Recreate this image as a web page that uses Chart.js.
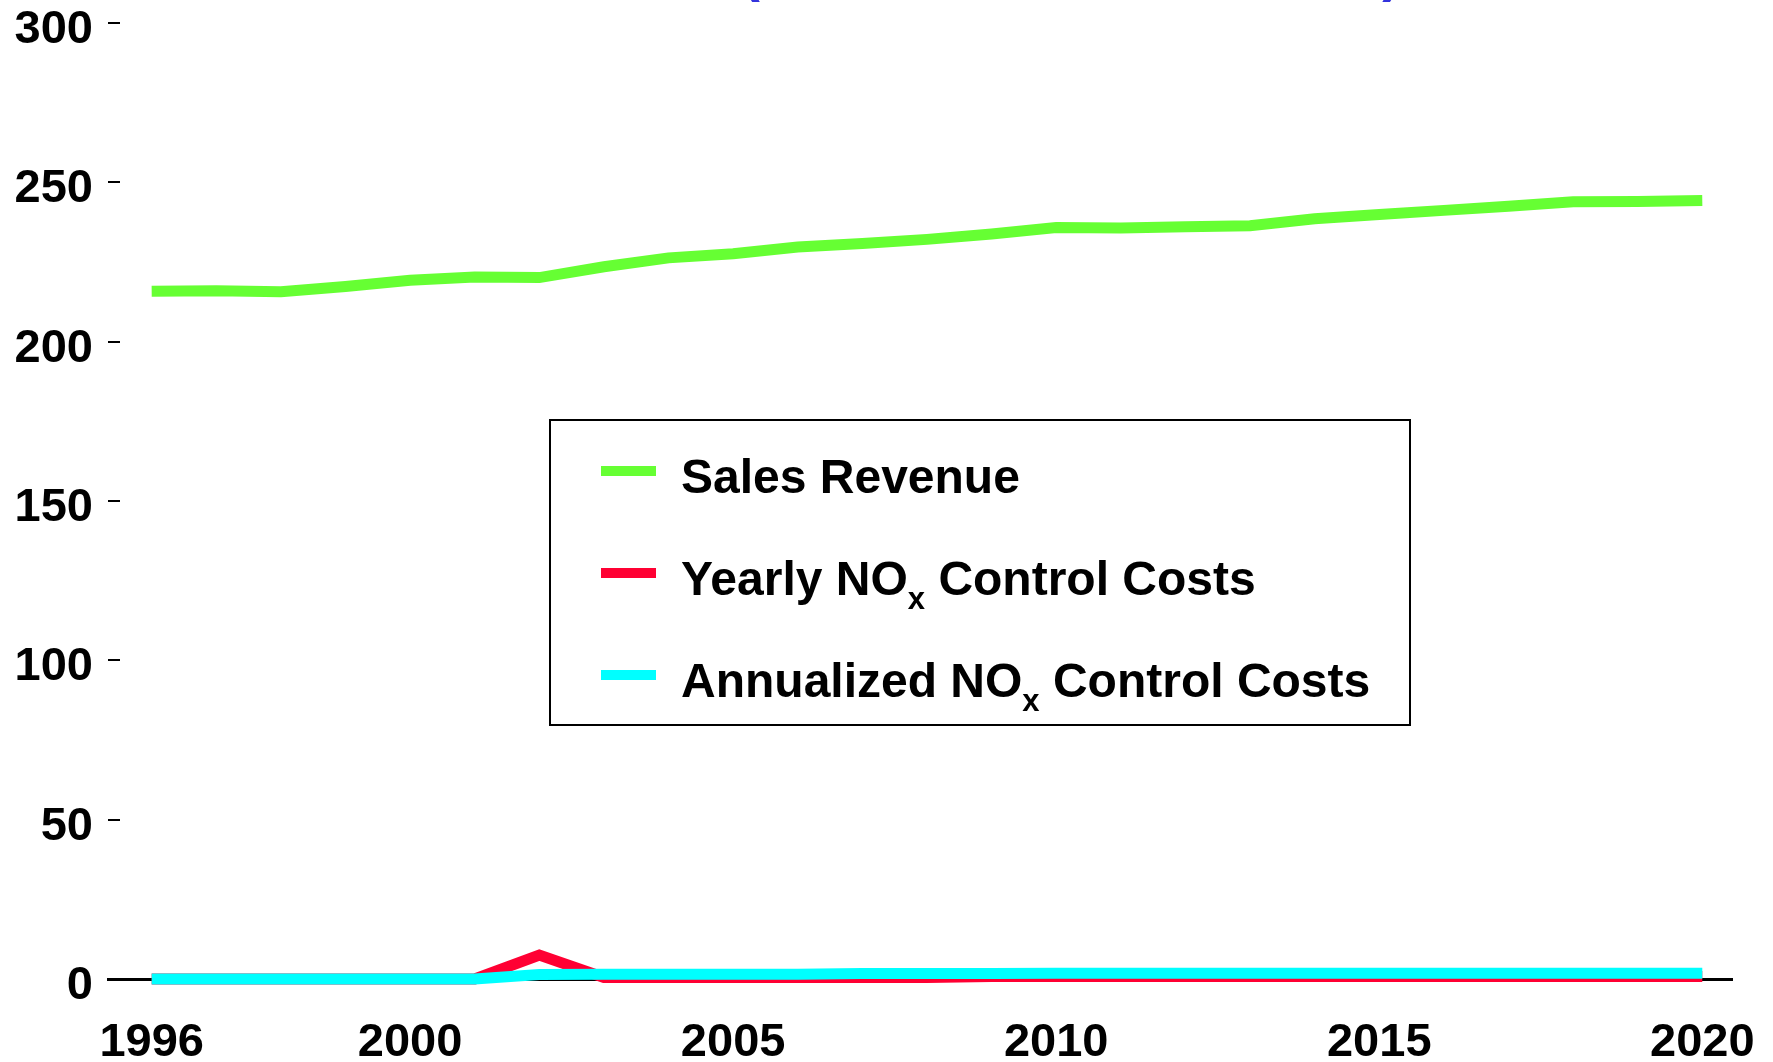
<!DOCTYPE html>
<html>
<head>
<meta charset="utf-8">
<script src="https://cdn.jsdelivr.net/npm/chart.js@4"></script>
<style>
  html, body { margin: 0; padding: 0; background: #fff; }
  #wrap { width: 1773px; height: 1062px; }
</style>
</head>
<body>
<div id="wrap"><canvas id="myChart" width="1773" height="1062"></canvas></div>
<script>
// values (million dollars)
const years = [1996, 1997, 1998, 1999, 2000, 2001, 2002, 2003, 2004, 2005, 2006, 2007, 2008,
               2009, 2010, 2011, 2012, 2013, 2014, 2015, 2016, 2017, 2018, 2019, 2020];
const salesRevenue = [215.8, 216.0, 215.7, 217.3, 219.3, 220.3, 220.1, 223.5, 226.3, 227.6, 229.7, 230.8, 232.1,
                      233.8, 235.8, 235.7, 236.1, 236.4, 238.6, 239.9, 241.2, 242.5, 243.9, 244.0, 244.3];
const yearlyNoxCosts = [0, 0, 0, 0, 0, 0, 7.5, 0.5, 0.5, 0.5, 0.5, 0.5, 0.5,
                        0.8, 0.8, 0.8, 0.8, 0.8, 0.8, 0.8, 0.8, 0.8, 0.8, 0.8, 0.8];
const annualizedNoxCosts = [0, 0, 0, 0, 0, 0, 1.4, 1.5, 1.5, 1.5, 1.5, 1.7, 1.7,
                            1.7, 1.8, 1.8, 1.8, 1.8, 1.8, 1.8, 1.8, 1.8, 1.8, 1.8, 1.8];
const xTickYears = [1996, 2000, 2005, 2010, 2015, 2020];
const yTickValues = [0, 50, 100, 150, 200, 250, 300];
const seriesLabels = ['Sales Revenue', 'Yearly NOx Control Costs', 'Annualized NOx Control Costs'];
const seriesColors = ['#66ff33', '#ff0033', '#00ffff'];
const titleText = '(Millions of 1996 Dollars)';

const FONT = '"Liberation Sans", Arial, sans-serif';

function toPoints(values) {
    return years.map((yr, i) => ({ x: yr, y: values[i] }));
}

// title sits mostly above the picture, only the bracket tips show
const titlePlugin = {
    id: 'cutTitle',
    afterDraw(chart) {
        const ctx = chart.ctx;
        ctx.save();
        ctx.font = 'bold 56px ' + FONT;
        ctx.fillStyle = '#3333dd';
        ctx.textAlign = 'center';
        ctx.textBaseline = 'alphabetic';
        ctx.fillText(titleText, 1071, -10);
        ctx.restore();
    }
};

// boxed legend with subscript x in NOx
const boxLegend = {
    id: 'boxLegend',
    afterDraw(chart) {
        const ctx = chart.ctx;
        ctx.save();
        ctx.fillStyle = '#fff';
        ctx.fillRect(550, 420, 860, 305);
        ctx.strokeStyle = '#000';
        ctx.lineWidth = 2;
        ctx.strokeRect(550, 420, 860, 305);
        const baselines = [493, 595, 697];
        chart.data.datasets.forEach((ds, i) => {
            const base = baselines[i];
            ctx.strokeStyle = ds.borderColor;
            ctx.lineWidth = 10;
            ctx.lineCap = 'butt';
            ctx.beginPath();
            ctx.moveTo(601, base - 22);
            ctx.lineTo(656, base - 22);
            ctx.stroke();

            ctx.fillStyle = '#000';
            ctx.textBaseline = 'alphabetic';
            ctx.textAlign = 'left';
            let x = 681;
            const parts = ds.label.split('NOx');
            parts.forEach((part, j) => {
                ctx.font = 'bold 48px ' + FONT;
                let txt = part + (j < parts.length - 1 ? 'NO' : '');
                ctx.fillText(txt, x, base);
                x += ctx.measureText(txt).width;
                if (j < parts.length - 1) {
                    ctx.font = 'bold 31px ' + FONT;
                    ctx.fillText('x', x, base + 14);
                    x += ctx.measureText('x').width;
                }
            });
        });
        ctx.restore();
    }
};

const ctx = document.getElementById('myChart').getContext('2d');

const myChart = new Chart(ctx, {
    type: 'line',
    data: {
        datasets: [
            {
                label: seriesLabels[0],
                data: toPoints(salesRevenue),
                borderColor: seriesColors[0],
                order: 3
            },
            {
                label: seriesLabels[1],
                data: toPoints(yearlyNoxCosts),
                borderColor: seriesColors[1],
                order: 2
            },
            {
                label: seriesLabels[2],
                data: toPoints(annualizedNoxCosts),
                borderColor: seriesColors[2],
                order: 1
            }
        ]
    },
    options: {
        responsive: false,
        animation: false,
        devicePixelRatio: 1,
        layout: { padding: { top: 23, right: 41, left: 0, bottom: 0 } },
        datasets: {
            line: {
                borderWidth: 11,
                pointRadius: 0,
                tension: 0,
                fill: false,
                clip: false,
                borderJoinStyle: 'miter',
                borderCapStyle: 'butt'
            }
        },
        plugins: {
            legend: { display: false },
            tooltip: { enabled: false },
            title: { display: false }
        },
        scales: {
            x: {
                type: 'linear',
                min: 1995.324,
                max: 2020.46,
                afterBuildTicks: s => { s.ticks = xTickYears.map(v => ({ value: v })); },
                afterFit: s => { s.height = 83; s.paddingLeft = 0; s.paddingRight = 0; },
                grid: { display: false },
                border: { display: true, color: '#000', width: 3 },
                ticks: {
                    color: '#000',
                    font: { family: FONT, size: 47, weight: 'bold', lineHeight: 1 },
                    padding: 33,
                    maxRotation: 0,
                    autoSkip: false,
                    callback: v => String(v)
                }
            },
            y: {
                min: 0,
                max: 300,
                afterBuildTicks: s => { s.ticks = yTickValues.map(v => ({ value: v })); },
                afterFit: s => { s.width = 108; s.paddingTop = 0; s.paddingBottom = 0; },
                grid: {
                    display: true,
                    drawOnChartArea: false,
                    drawTicks: true,
                    tickLength: -12,
                    color: '#000',
                    lineWidth: 2
                },
                border: { display: false },
                ticks: {
                    color: '#000',
                    font: { family: FONT, size: 47, weight: 'bold', lineHeight: 1 },
                    padding: 27,
                    labelOffset: 7,
                    callback: v => String(v)
                }
            }
        }
    },
    plugins: [titlePlugin, boxLegend]
});
</script>
</body>
</html>
